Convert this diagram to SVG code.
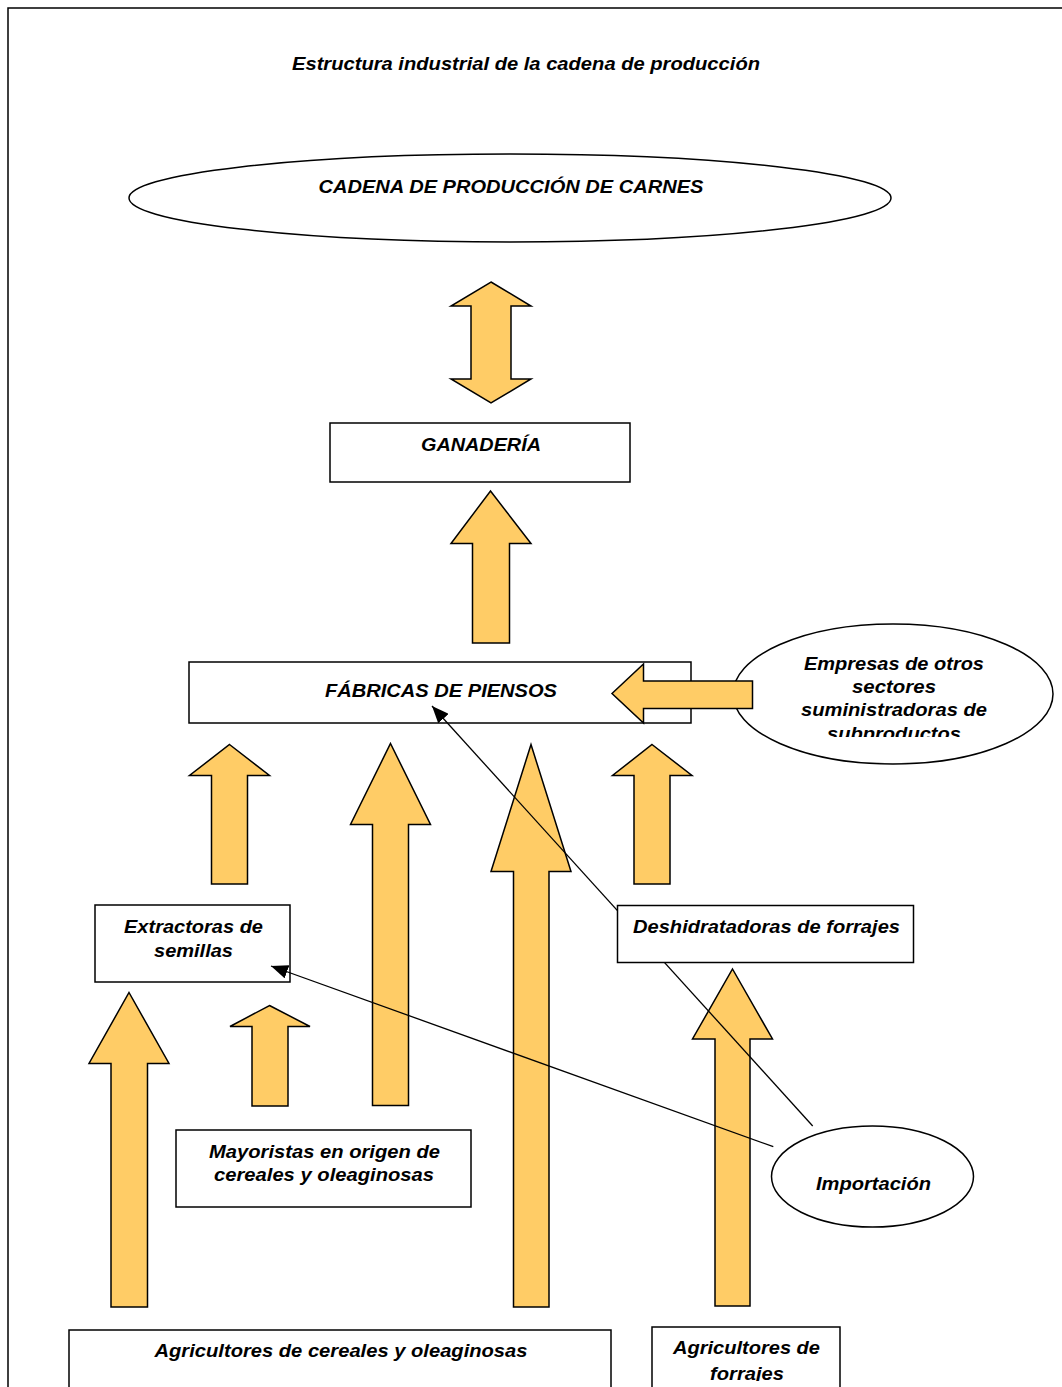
<svg xmlns="http://www.w3.org/2000/svg" width="1062" height="1387" viewBox="0 0 1062 1387">
<style>
  text { font-family: "Liberation Sans", Arial, sans-serif; font-weight: bold; font-style: italic; font-size: 19px; fill: #000; text-anchor: middle; }
  .box { fill: #fff; stroke: #000; stroke-width: 1.5; }
  .blk { fill: #FFCC66; stroke: #000; stroke-width: 1.5; stroke-linejoin: miter; }
  .ln { fill: none; stroke: #000; stroke-width: 1.3; }
</style>
<defs>
  <marker id="ah" markerWidth="18" markerHeight="14" refX="17" refY="7" orient="auto" markerUnits="userSpaceOnUse">
    <path d="M0,0 L17,7 L0,14 z" fill="#000"/>
  </marker>
  <clipPath id="clipSub"><rect x="700" y="600" width="362" height="137"/></clipPath>
  <clipPath id="clipForr"><rect x="640" y="1320" width="220" height="61"/></clipPath>
</defs>
<rect x="0" y="0" width="1062" height="1387" fill="#fff"/>
<path d="M8,1387 V8 H1062" fill="none" stroke="#000" stroke-width="1.5"/>

<g id="title">
  <text x="526" y="70" textLength="468" lengthAdjust="spacingAndGlyphs">Estructura industrial de la cadena de producción</text>
</g>

<g id="cadena">
  <ellipse class="box" cx="510" cy="198" rx="381" ry="44"/>
  <text x="511" y="193" textLength="385" lengthAdjust="spacingAndGlyphs">CADENA DE PRODUCCIÓN DE CARNES</text>
</g>

<g id="ganaderia">
  <rect class="box" x="330" y="423" width="300" height="59"/>
  <text x="481" y="451" textLength="120" lengthAdjust="spacingAndGlyphs">GANADERÍA</text>
</g>

<g id="fabricas">
  <rect class="box" x="189" y="662" width="502" height="61"/>
  <text x="441" y="697" textLength="232" lengthAdjust="spacingAndGlyphs">FÁBRICAS DE PIENSOS</text>
</g>

<g id="empresas">
  <ellipse class="box" cx="893" cy="694" rx="160" ry="70"/>
  <text x="894" y="670" textLength="180" lengthAdjust="spacingAndGlyphs">Empresas de otros</text>
  <text x="894" y="693" textLength="84" lengthAdjust="spacingAndGlyphs">sectores</text>
  <text x="894" y="716" textLength="186" lengthAdjust="spacingAndGlyphs">suministradoras de</text>
  <text x="894" y="740" textLength="134" lengthAdjust="spacingAndGlyphs" clip-path="url(#clipSub)">subproductos</text>
</g>

<g id="extractoras">
  <rect class="box" x="95" y="905" width="195" height="77"/>
  <text x="193.5" y="933" textLength="139" lengthAdjust="spacingAndGlyphs">Extractoras de</text>
  <text x="193.5" y="957" textLength="79" lengthAdjust="spacingAndGlyphs">semillas</text>
</g>

<g id="mayoristas">
  <rect class="box" x="176" y="1130" width="295" height="77"/>
  <text x="324.5" y="1158" textLength="231" lengthAdjust="spacingAndGlyphs">Mayoristas en origen de</text>
  <text x="324" y="1181" textLength="220" lengthAdjust="spacingAndGlyphs">cereales y oleaginosas</text>
</g>

<g id="importacion">
  <ellipse class="box" cx="872.5" cy="1176.5" rx="101" ry="50.5"/>
  <text x="873.5" y="1190" textLength="115" lengthAdjust="spacingAndGlyphs">Importación</text>
</g>

<g id="agricultores-cereales">
  <rect class="box" x="69" y="1330" width="542" height="70"/>
  <text x="341" y="1357" textLength="373" lengthAdjust="spacingAndGlyphs">Agricultores de cereales y oleaginosas</text>
</g>

<g id="agricultores-forrajes">
  <rect class="box" x="652" y="1327" width="188" height="70"/>
  <text x="746.5" y="1354" textLength="147" lengthAdjust="spacingAndGlyphs">Agricultores de</text>
  <text x="747" y="1380" textLength="74" lengthAdjust="spacingAndGlyphs" clip-path="url(#clipForr)">forrajes</text>
</g>

<g id="connectors">
  <!-- double arrow cadena <-> ganaderia -->
  <path class="blk" d="M491,282 L531,306 L511,306 L511,379 L531,379 L491,403 L451,379 L471,379 L471,306 L451,306 Z"/>
  <!-- fabricas -> ganaderia -->
  <path class="blk" d="M490.5,491 L531,543.5 L509.5,543.5 L509.5,643 L472.5,643 L472.5,543.5 L451,543.5 Z"/>
  <!-- empresas -> fabricas -->
  <path class="blk" d="M612,693.5 L643.5,664 L643.5,681 L752.5,681 L752.5,708.5 L643.5,708.5 L643.5,723 Z"/>
  <!-- extractoras -> fabricas -->
  <path class="blk" d="M229.5,744.5 L269.5,775.5 L247.5,775.5 L247.5,884 L211.5,884 L211.5,775.5 L189.5,775.5 Z"/>
  <!-- mayoristas -> fabricas -->
  <path class="blk" d="M390.5,743.5 L430.5,824.5 L408.5,824.5 L408.5,1105.5 L372.5,1105.5 L372.5,824.5 L350.5,824.5 Z"/>
  <!-- agricultores cereales -> fabricas -->
  <path class="blk" d="M531,744.5 L571,871.5 L549,871.5 L549,1307 L513.5,1307 L513.5,871.5 L491,871.5 Z"/>
  <!-- deshidratadoras -> fabricas -->
  <path class="blk" d="M652,744.5 L692,775.5 L670,775.5 L670,884 L634,884 L634,775.5 L612.5,775.5 Z"/>
  <!-- agricultores cereales -> extractoras -->
  <path class="blk" d="M129,992.5 L169,1063.5 L147.5,1063.5 L147.5,1307 L111,1307 L111,1063.5 L89,1063.5 Z"/>
  <!-- agricultores cereales -> mayoristas -->
  <path class="blk" d="M269.5,1005.5 L310,1026.5 L288,1026.5 L288,1106 L252,1106 L252,1026.5 L230,1026.5 Z"/>
  <!-- agricultores forrajes -> deshidratadoras -->
  <path class="blk" d="M732.5,969 L772.5,1039 L750,1039 L750,1306 L715,1306 L715,1039 L692.5,1039 Z"/>
  <!-- importacion lines -->
  <line class="ln" x1="812.7" y1="1126" x2="432" y2="706" marker-end="url(#ah)"/>
  <line class="ln" x1="773.3" y1="1146.7" x2="271" y2="966" marker-end="url(#ah)"/>
</g>

<g id="deshidratadoras">
  <rect class="box" x="617.5" y="905.5" width="296" height="57"/>
  <text x="766.5" y="933" textLength="267" lengthAdjust="spacingAndGlyphs">Deshidratadoras de forrajes</text>
</g>
</svg>
